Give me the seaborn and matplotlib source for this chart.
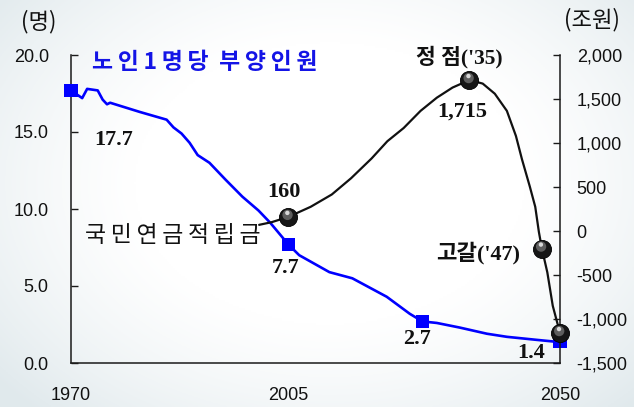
import numpy as np
import matplotlib
matplotlib.use("Agg")
import matplotlib.pyplot as plt
from matplotlib.transforms import offset_copy
import seaborn as sns

# ---- data -------------------------------------------------------------
# 노인 1명당 부양인원 (명)
support_years = [1970, 1971.8, 1972.6, 1974.3, 1975.1, 1975.8, 1976.3, 1981.1,
                 1985.4, 1986.5, 1987.8, 1989.1, 1990.4, 1992.3, 1994.9, 1997.6,
                 2000.2, 2002.1, 2005, 2006.8, 2011.8, 2015.6, 2021.3, 2025.1,
                 2027.2, 2029.6, 2033.4, 2037.9, 2041.2, 2046.2, 2048.8, 2050]
support_vals = [17.7, 17.2, 17.8, 17.7, 17.1, 16.8, 16.9, 16.3,
                15.8, 15.3, 14.9, 14.3, 13.5, 13.0, 11.9, 10.8,
                9.9, 9.1, 7.7, 7.0, 5.9, 5.5, 4.3, 3.2,
                2.7, 2.6, 2.3, 1.9, 1.7, 1.5, 1.4, 1.4]
support_mark_years = [1970, 2005, 2027.2, 2050]
support_mark_vals = [17.7, 7.7, 2.7, 1.4]
support_labels = ["17.7", "7.7", "2.7", "1.4"]

# 국민연금 적립금 (조원)
fund_years = [2000.3, 2002.3, 2005, 2008.7, 2012.2, 2015.4, 2018.8, 2021.4,
              2024.1, 2026.9, 2029.6, 2032.2, 2035, 2037.2, 2039.2, 2041.2,
              2042.7, 2043.7, 2045.0, 2045.9, 2046.5, 2047, 2047.9, 2048.8, 2050]
fund_vals = [70, 100, 160, 275, 415, 600, 825, 1020,
             1170, 1365, 1515, 1630, 1715, 1675, 1560, 1365,
             1080, 815, 505, 275, -10, -200, -470, -850, -1160]
fund_mark_years = [2005, 2035, 2047, 2050]
fund_mark_vals = [160, 1715, -200, -1160]

x_tick_years = [1970, 2005, 2050]
left_ticks = [0, 5, 10, 15, 20]
right_ticks = [-1500, -1000, -500, 0, 500, 1000, 1500, 2000]

# ---- style --------------------------------------------------------------
sns.set_style("white")
plt.rcParams["font.family"] = ["Liberation Sans", "Noto Sans CJK KR"]

BLUE = "#0000ff"
INK = "#111111"
KR = ["Noto Sans CJK KR", "DejaVu Sans"]
SERIF_KR = ["Liberation Serif", "Noto Sans CJK KR"]
THIN = "\u2009"

W, H = 634, 407
fig = plt.figure(figsize=(W / 100, H / 100), dpi=100)

# soft bluish backdrop, white toward the middle
bg = fig.add_axes([0, 0, 1, 1], zorder=-10)
gx, gy = np.meshgrid(np.linspace(0, 1, 320), np.linspace(0, 1, 200))
r = ((gx - 0.52) / 0.62) ** 2 + ((gy - 0.45) / 0.7) ** 2
a = np.clip((r - 0.25) * 0.9, 0, 0.85)[..., None]
edge = np.array([0.86, 0.90, 0.915])
img = (1 - a) * np.array([1.0, 1.0, 1.0]) + a * edge
bg.imshow(img, extent=[0, 1, 0, 1], aspect="auto", origin="upper")
bg.axis("off")

L, R, T, B = 71, 560, 55, 363
ax = fig.add_axes([L / W, 1 - B / H, (R - L) / W, (B - T) / H])
ax.set_facecolor("none")

# year axis: 1970-2005 over six tick steps, 2005-2050 over 7.5 steps
def fwd(x):
    x = np.asarray(x, dtype=float)
    return np.where(x <= 2005, (x - 1970) * 6 / 35, 6 + (x - 2005) * 7.5 / 45)

def inv(u):
    u = np.asarray(u, dtype=float)
    return np.where(u <= 6, 1970 + u * 35 / 6, 2005 + (u - 6) * 45 / 7.5)

ax.set_xscale("function", functions=(fwd, inv))

ax2 = ax.twinx()
ax2.set_facecolor("none")

# ---- support ratio (left axis) ----
sns.lineplot(x=support_years, y=support_vals, ax=ax, color=BLUE, lw=1.9,
             estimator=None, sort=False, zorder=3, clip_on=False)
sns.scatterplot(x=support_mark_years, y=support_mark_vals, ax=ax, marker="s",
                s=95, color=BLUE, edgecolor="none", linewidth=0, zorder=4,
                clip_on=False)

# ---- fund balance (right axis) ----
sns.lineplot(x=fund_years, y=fund_vals, ax=ax2, color=INK, lw=1.6,
             estimator=None, sort=False, zorder=3, clip_on=False)
sns.scatterplot(x=fund_mark_years, y=fund_mark_vals, ax=ax2, s=170,
                color="#161616", edgecolor="#000000", linewidth=0.6, zorder=5,
                clip_on=False)
shade = offset_copy(ax2.transData, fig=fig, x=-0.8, y=2.0, units="dots")
sns.scatterplot(x=fund_mark_years, y=fund_mark_vals, ax=ax2, s=55,
                color="#5e5e5e", edgecolor="none", linewidth=0, zorder=6,
                transform=shade, clip_on=False)
gloss = offset_copy(ax2.transData, fig=fig, x=-1.0, y=4.0, units="dots")
sns.scatterplot(x=fund_mark_years, y=fund_mark_vals, ax=ax2, s=10,
                color="#d8d8d8", edgecolor="none", linewidth=0, zorder=7,
                transform=gloss, clip_on=False)

# ---- axes ----
ax.set_xlim(1970, 2050)
ax.set_ylim(0, 20)
ax2.set_ylim(-1500, 2000)

ax.set_xticks(x_tick_years)
ax.set_xticklabels([str(y) for y in x_tick_years])
ax.set_xticks([float(v) for v in inv(np.array([1, 2, 3, 4, 5, 7, 8, 9, 10, 11, 12, 13]))],
              minor=True)
ax.set_yticks(left_ticks)
ax.set_yticklabels([f"{v:.1f}" for v in left_ticks])
ax2.set_yticks(right_ticks)
ax2.set_yticklabels([f"{v:,}" for v in right_ticks])

for a_ in (ax, ax2):
    a_.set_xlabel("")
    a_.set_ylabel("")
    for s in a_.spines.values():
        s.set_linewidth(1.1)
        s.set_color("#1a1a1a")
    a_.spines["top"].set_visible(False)

ax.spines["right"].set_visible(False)
ax2.spines["left"].set_visible(False)
ax2.spines["bottom"].set_visible(False)

ax.tick_params(axis="x", which="both", direction="in", length=5, width=1.0,
               color="#1a1a1a", pad=17, labelsize=13, labelcolor="#111")
ax.tick_params(axis="y", direction="in", length=5, width=1.0, color="#1a1a1a",
               pad=16, labelsize=13, labelcolor="#111", left=True)
ax2.tick_params(axis="y", direction="in", length=5, width=1.0, color="#1a1a1a",
                pad=12, labelsize=13, labelcolor="#111", right=True)

# ---- annotations ----
def note(axis, x, y, text, dx, dy, **kw):
    axis.annotate(text, xy=(x, y), xytext=(dx * 0.72, -dy * 0.72),
                  textcoords="offset points", ha="center", va="center",
                  zorder=8, **kw)

num_style = dict(fontsize=16, fontweight="bold", family="Liberation Serif",
                 color=INK)
support_offsets = [(43, 50), (-3, 24), (-5, 18), (-29, 12)]
for x, y, t, (dx, dy) in zip(support_mark_years, support_mark_vals,
                             support_labels, support_offsets):
    note(ax, x, y, t, dx, dy, **num_style)

note(ax2, fund_mark_years[0], fund_mark_vals[0], f"{fund_mark_vals[0]:,}",
     -4, -25, **num_style)
note(ax2, fund_mark_years[1], fund_mark_vals[1], f"{fund_mark_vals[1]:,}",
     -7, 32, **num_style)
note(ax2, fund_mark_years[1], fund_mark_vals[1], "정 점('35)", -10, -23,
     fontsize=15.5, fontweight="bold", family=SERIF_KR, color=INK)
note(ax2, fund_mark_years[2], fund_mark_vals[2], "고갈('47)", -64, 4,
     fontsize=16, fontweight="bold", family=SERIF_KR, color=INK)

ax.text(1986.4, 8.25, THIN.join("국민연금적립금"), ha="center", va="center",
        fontsize=16.5, family=KR, color=INK, zorder=8)
title = THIN.join("노인1명당") + "  " + THIN.join("부양인원")
ax.text(1973.4, 19.5, title, ha="left", va="center",
        fontsize=16.5, fontweight="bold", family=KR, color="#1414e6", zorder=8)

fig.text(39 / W, 1 - 22 / H, "(명)", ha="center", va="center", fontsize=16,
         family=KR, color=INK)
fig.text(592 / W, 1 - 20 / H, "(조원)", ha="center", va="center", fontsize=16,
         family=KR, color=INK)

fig.savefig("out.png", dpi=100)
